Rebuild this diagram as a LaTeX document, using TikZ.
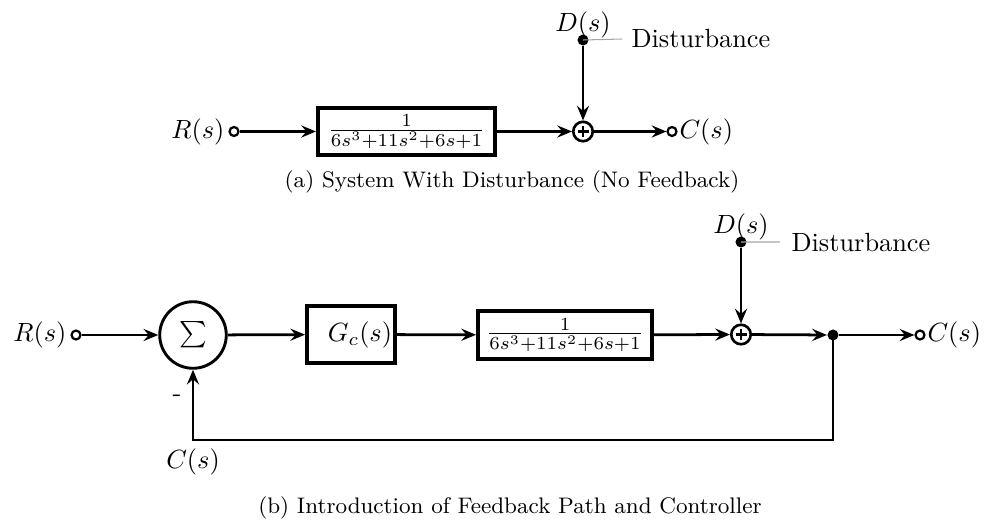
\documentclass[tikz,border=0pt]{standalone}
\usetikzlibrary{arrows.meta}
\begin{document}
\begin{tikzpicture}[x=0.38pt,y=-0.38pt,
  conn/.style={line width=1.05pt,-{Stealth[length=5.6pt,width=4.6pt,inset=2pt]}},
  wire/.style={line width=1pt},
  blockbox/.style={draw,line width=1.5pt,inner sep=0pt},
  sumcirc/.style={draw,circle,line width=1.1pt,minimum size=25.3pt,inner sep=0pt},
  pluscirc/.style={draw,circle,line width=1pt,minimum size=7.4pt,inner sep=0pt},
  portcirc/.style={draw,circle,line width=0.85pt,fill=white,minimum size=3.4pt,inner sep=0pt},
  dotnode/.style={fill,circle,minimum size=4.2pt,inner sep=0pt},
  lbl/.style={inner sep=0pt},
  note/.style={draw=gray!70,line width=0.4pt},
  capt/.style={font=\fontsize{8.55}{10}\selectfont,inner sep=0pt,anchor=base}
]
\useasboundingbox (0,0) rectangle (987,522);

% ---------- (a) ----------
\node[portcirc] (a_in) at (234,131.5) {};
\node[lbl,anchor=east] (a_R) at (225,131.5) {$R(s)$};
\node[blockbox,minimum width=67.3pt,minimum height=18.2pt] (a_G) at (406.5,131.5) {$\frac{1}{6s^3+11s^2+6s+1}$};
\node[pluscirc] (a_S) at (583,131.5) {};
\draw[wire] (a_S.center) ++(-5.5,0) -- ++(11,0);
\draw[wire] (a_S.center) ++(0,-5.5) -- ++(0,11);
\node[dotnode] (a_D) at (583,40) {};
\node[lbl] (a_Dl) at (583,25) {$D(s)$};
\node[lbl,anchor=base west] (a_dist) at (631,48) {Disturbance};
\draw[note] (a_D.center) -- ([xshift=-3.4pt]a_dist.west);
\node[portcirc] (a_out) at (672,131.5) {};
\node[lbl,anchor=west] (a_C) at (679,131.5) {$C(s)$};

\draw[conn] (a_in) -- (a_G);
\draw[conn] (a_G) -- (a_S);
\draw[conn] (a_S) -- (a_out);
\draw[conn] (a_D) -- (a_S);

\node[capt] (a_cap) at (512,187) {(a) System With Disturbance (No Feedback)};

% ---------- (b) ----------
\node[portcirc] (b_in) at (76,335) {};
\node[lbl,anchor=east] (b_R) at (67,335) {$R(s)$};
\node[sumcirc] (b_sum) at (193,335) {$\sum$};
\node[blockbox,minimum width=33.4pt,minimum height=21.7pt] (b_Gc) at (351,334.5) {\hspace*{6.8pt}$G_c(s)$};
\node[blockbox,minimum width=66.1pt,minimum height=18.2pt] (b_G) at (565,335) {$\frac{1}{6s^3+11s^2+6s+1}$};
\node[pluscirc] (b_S) at (741,334.5) {};
\draw[wire] (b_S.center) ++(-5.5,0) -- ++(11,0);
\draw[wire] (b_S.center) ++(0,-5.5) -- ++(0,11);
\node[dotnode] (b_J) at (833,335) {};
\node[portcirc] (b_out) at (920,335) {};
\node[lbl,anchor=west] (b_C) at (927,335) {$C(s)$};
\node[dotnode] (b_D) at (741,242) {};
\node[lbl] (b_Dl) at (741,227) {$D(s)$};
\node[lbl,anchor=base west] (b_dist) at (791,251) {Disturbance};
\draw[note] (b_D.center) -- ([xshift=-4.2pt]b_dist.west);
\coordinate (b_fb) at (193,440);
\node[lbl] (b_minus) at (177,398) {-};
\node[lbl] (b_Cfb) at (193,462) {$C(s)$};

\draw[conn] (b_in) -- (b_sum);
\draw[conn] (b_sum) -- (b_Gc);
\draw[conn] (b_Gc) -- (b_G);
\draw[conn] (b_G) -- (b_S);
\draw[conn] (b_D) -- (b_S);
\draw[conn] (b_S) -- (b_J);
\draw[conn] (b_J) -- (b_out);
\draw[conn] (b_J.center) |- (b_fb) -- (b_sum);

\node[capt] (b_cap) at (510,513) {(b) Introduction of Feedback Path and Controller};
\end{tikzpicture}
\end{document}
